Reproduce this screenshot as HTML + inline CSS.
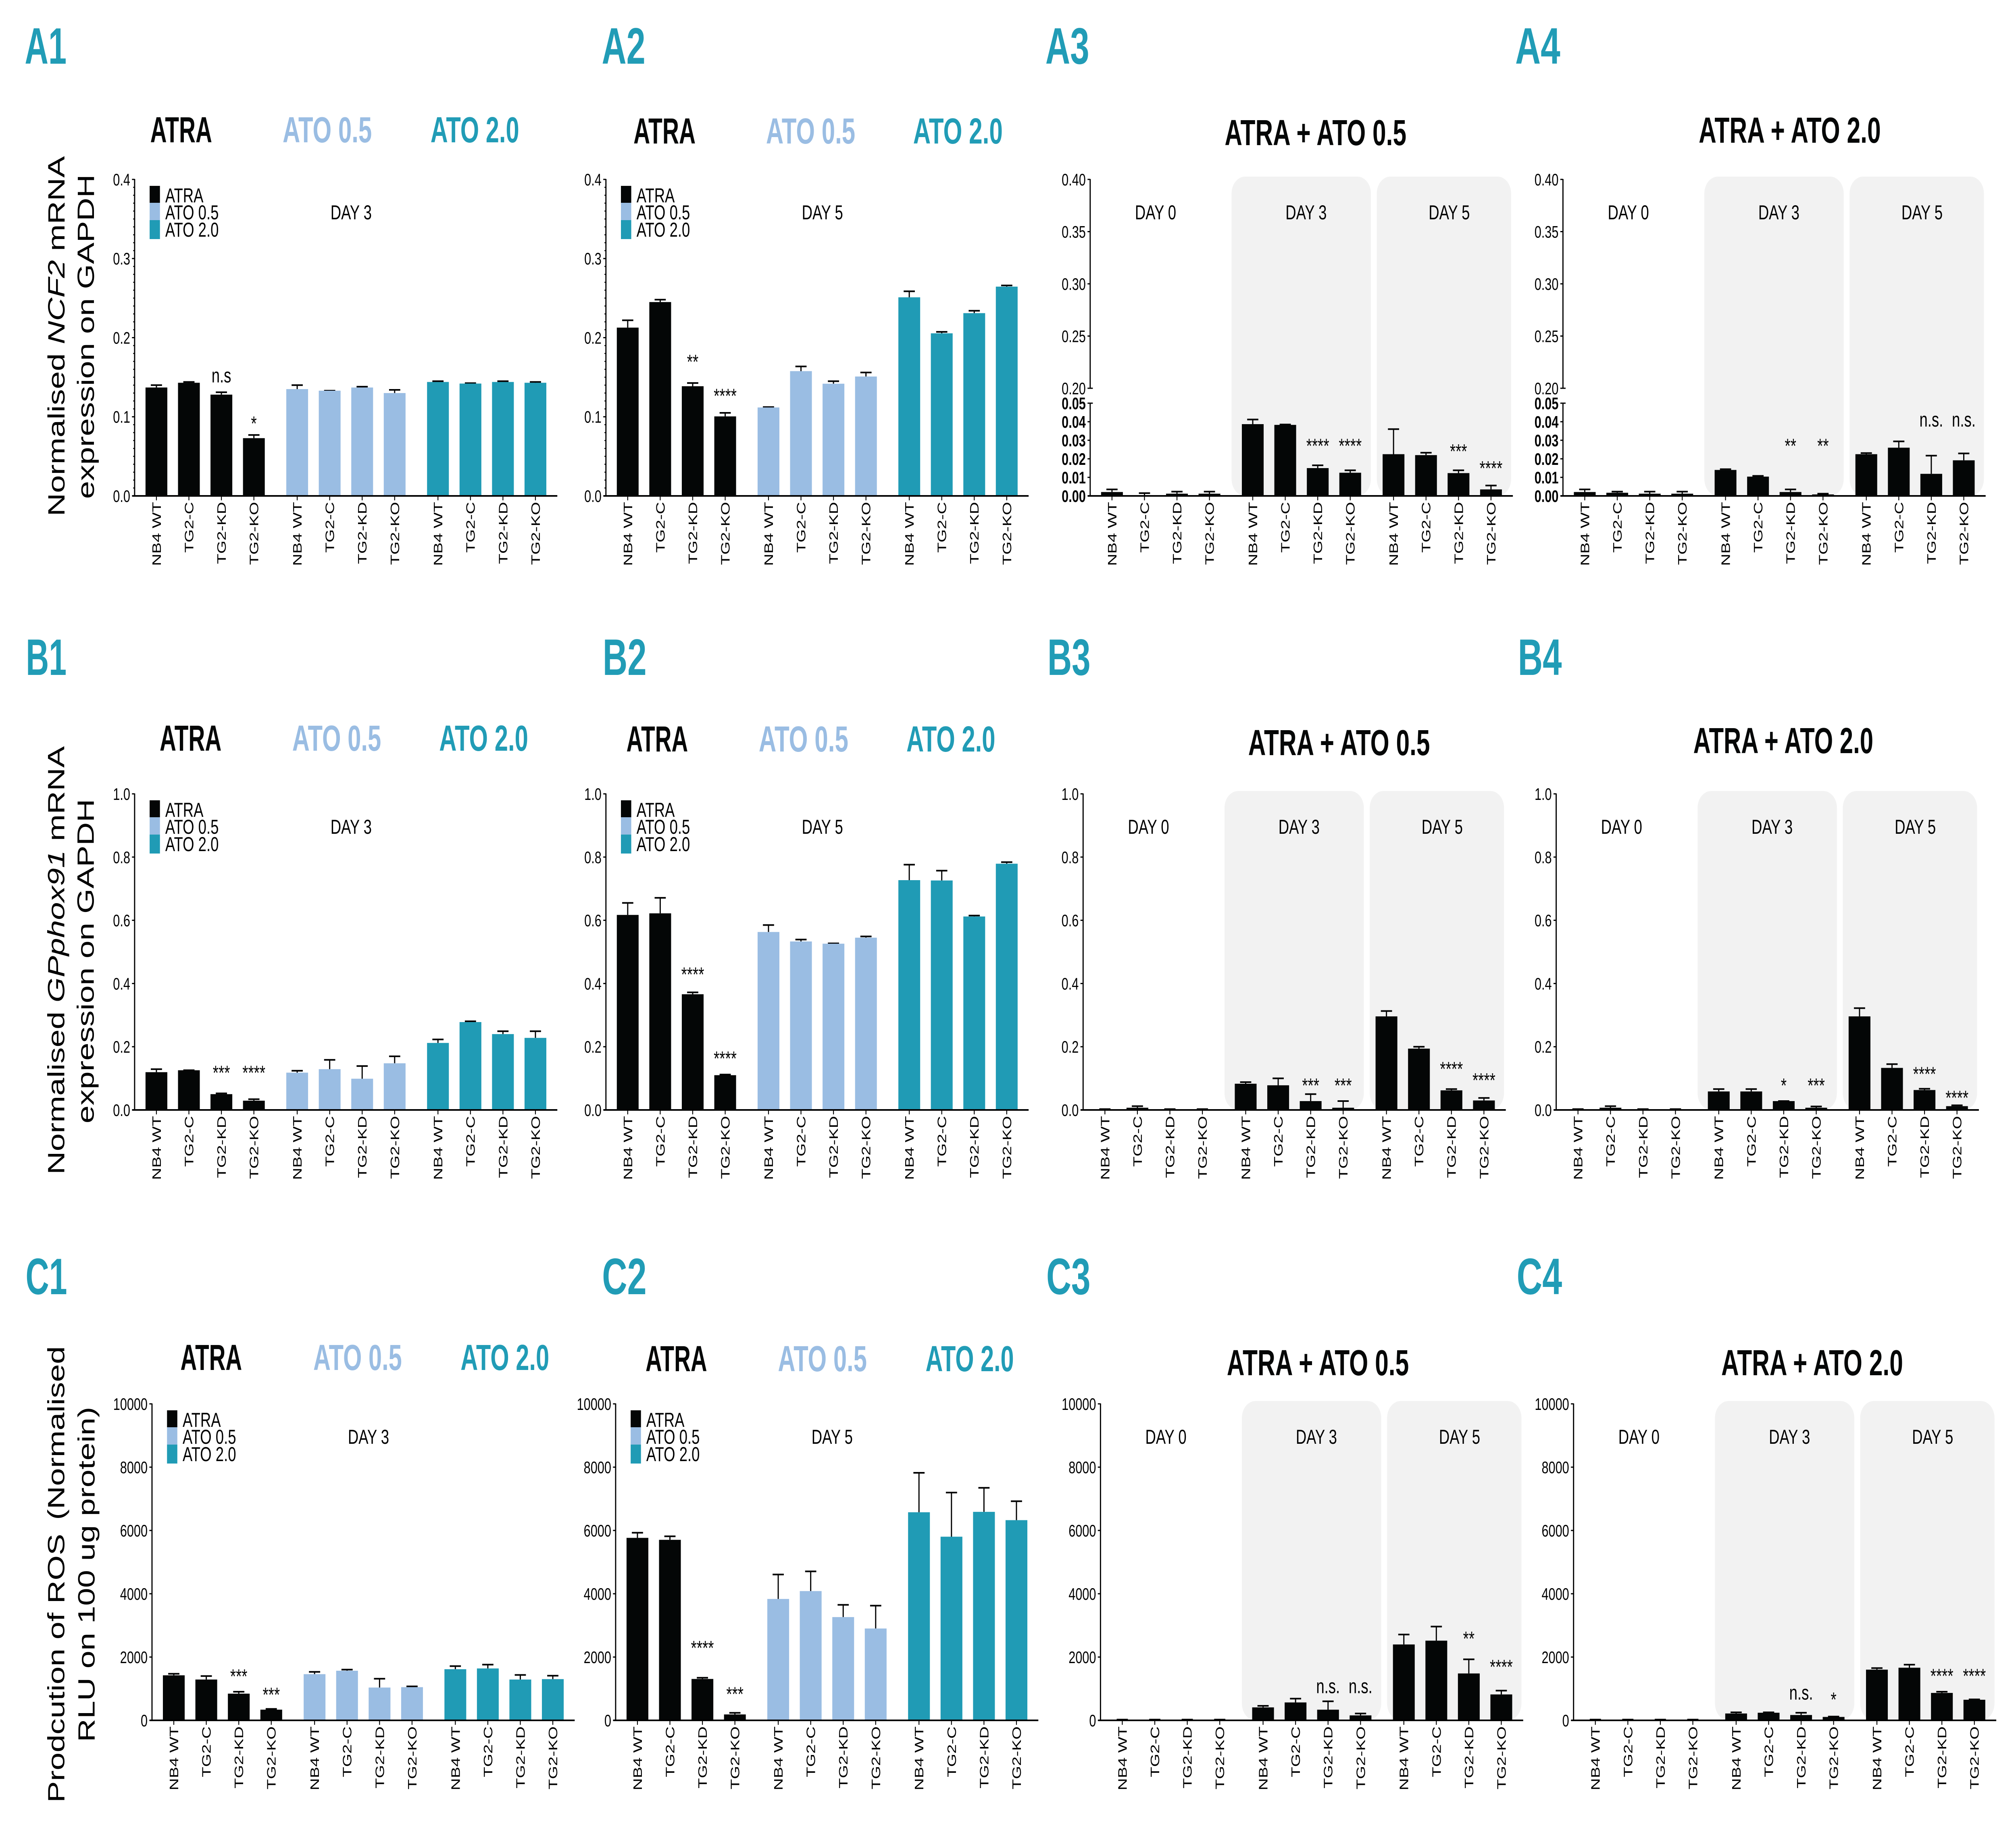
<!DOCTYPE html>
<html lang="en">
<head>
<meta charset="utf-8">
<title>NCF2, GPphox91 and ROS expression panels</title>
<style>
html,body{margin:0;padding:0;background:#fff;overflow:hidden;width:100%;height:100%}
svg{display:block;position:absolute;left:0;top:0;width:100vw;height:100vh}
text{font-family:"Liberation Sans",Arial,sans-serif;fill:#000}
.pl{font-weight:700;font-size:127px;fill:#219cb6}
.tt{font-weight:700;font-size:90px;fill:#050707}
.lb{fill:#9abde3}
.tl{fill:#219cb6}
.yt{font-size:80px;text-anchor:middle}
</style>
</head>
<body>
<svg id="figure" xmlns="http://www.w3.org/2000/svg" viewBox="0 0 6844 4534" preserveAspectRatio="none">
<rect width="6844" height="4534" fill="#fff"/>

<text class="pl" x="84" y="158" textLength="142" lengthAdjust="spacingAndGlyphs">A1</text>
<text class="pl" x="2043" y="158" textLength="148" lengthAdjust="spacingAndGlyphs">A2</text>
<text class="pl" x="3549" y="158" textLength="149" lengthAdjust="spacingAndGlyphs">A3</text>
<text class="pl" x="5144" y="158" textLength="153" lengthAdjust="spacingAndGlyphs">A4</text>
<text class="pl" x="88" y="1674" textLength="138" lengthAdjust="spacingAndGlyphs">B1</text>
<text class="pl" x="2046" y="1674" textLength="149" lengthAdjust="spacingAndGlyphs">B2</text>
<text class="pl" x="3556" y="1674" textLength="146" lengthAdjust="spacingAndGlyphs">B3</text>
<text class="pl" x="5153" y="1674" textLength="149" lengthAdjust="spacingAndGlyphs">B4</text>
<text class="pl" x="87" y="3210" textLength="141" lengthAdjust="spacingAndGlyphs">C1</text>
<text class="pl" x="2044" y="3210" textLength="151" lengthAdjust="spacingAndGlyphs">C2</text>
<text class="pl" x="3552" y="3210" textLength="150" lengthAdjust="spacingAndGlyphs">C3</text>
<text class="pl" x="5149" y="3210" textLength="154" lengthAdjust="spacingAndGlyphs">C4</text>

<text class="tt" x="615" y="353" text-anchor="middle" textLength="210" lengthAdjust="spacingAndGlyphs">ATRA</text>
<text class="tt lb" x="1111" y="353" text-anchor="middle" textLength="303" lengthAdjust="spacingAndGlyphs">ATO 0.5</text>
<text class="tt tl" x="1612" y="353" text-anchor="middle" textLength="301" lengthAdjust="spacingAndGlyphs">ATO 2.0</text>
<text class="tt" x="2256" y="356" text-anchor="middle" textLength="211" lengthAdjust="spacingAndGlyphs">ATRA</text>
<text class="tt lb" x="2752" y="356" text-anchor="middle" textLength="303" lengthAdjust="spacingAndGlyphs">ATO 0.5</text>
<text class="tt tl" x="3252" y="356" text-anchor="middle" textLength="304" lengthAdjust="spacingAndGlyphs">ATO 2.0</text>
<text class="tt" x="4466" y="360" text-anchor="middle" textLength="617" lengthAdjust="spacingAndGlyphs">ATRA + ATO 0.5</text>
<text class="tt" x="6076" y="354" text-anchor="middle" textLength="618" lengthAdjust="spacingAndGlyphs">ATRA + ATO 2.0</text>

<text class="tt" x="647" y="1862" text-anchor="middle" textLength="210" lengthAdjust="spacingAndGlyphs">ATRA</text>
<text class="tt lb" x="1143" y="1862" text-anchor="middle" textLength="302" lengthAdjust="spacingAndGlyphs">ATO 0.5</text>
<text class="tt tl" x="1642" y="1862" text-anchor="middle" textLength="302" lengthAdjust="spacingAndGlyphs">ATO 2.0</text>
<text class="tt" x="2231" y="1864" text-anchor="middle" textLength="209" lengthAdjust="spacingAndGlyphs">ATRA</text>
<text class="tt lb" x="2728" y="1864" text-anchor="middle" textLength="304" lengthAdjust="spacingAndGlyphs">ATO 0.5</text>
<text class="tt tl" x="3228" y="1864" text-anchor="middle" textLength="302" lengthAdjust="spacingAndGlyphs">ATO 2.0</text>
<text class="tt" x="4546" y="1873" text-anchor="middle" textLength="617" lengthAdjust="spacingAndGlyphs">ATRA + ATO 0.5</text>
<text class="tt" x="6054" y="1868" text-anchor="middle" textLength="611" lengthAdjust="spacingAndGlyphs">ATRA + ATO 2.0</text>

<text class="tt" x="717" y="3398" text-anchor="middle" textLength="209" lengthAdjust="spacingAndGlyphs">ATRA</text>
<text class="tt lb" x="1214" y="3398" text-anchor="middle" textLength="301" lengthAdjust="spacingAndGlyphs">ATO 0.5</text>
<text class="tt tl" x="1714" y="3398" text-anchor="middle" textLength="301" lengthAdjust="spacingAndGlyphs">ATO 2.0</text>
<text class="tt" x="2296" y="3401" text-anchor="middle" textLength="209" lengthAdjust="spacingAndGlyphs">ATRA</text>
<text class="tt lb" x="2792" y="3401" text-anchor="middle" textLength="302" lengthAdjust="spacingAndGlyphs">ATO 0.5</text>
<text class="tt tl" x="3292" y="3401" text-anchor="middle" textLength="300" lengthAdjust="spacingAndGlyphs">ATO 2.0</text>
<text class="tt" x="4474" y="3411" text-anchor="middle" textLength="618" lengthAdjust="spacingAndGlyphs">ATRA + ATO 0.5</text>
<text class="tt" x="6152" y="3411" text-anchor="middle" textLength="617" lengthAdjust="spacingAndGlyphs">ATRA + ATO 2.0</text>

<text class="yt" transform="translate(219,834) rotate(-90)">Normalised <tspan font-style="italic">NCF2</tspan> mRNA</text>
<text class="yt" transform="translate(319,835) rotate(-90)">expression on GAPDH</text>
<text class="yt" transform="translate(218,2382) rotate(-90)">Normalised <tspan font-style="italic">GPphox91</tspan> mRNA</text>
<text class="yt" transform="translate(318,2384) rotate(-90)">expression on GAPDH</text>
<text class="yt" transform="translate(218,3905) rotate(-90)">Prodcution of ROS <tspan dx="12">(Normalised</tspan></text>
<text class="yt" transform="translate(321,3905) rotate(-90)">RLU on 100 ug protein)</text>

<g id="charts"></g>
</svg>

<script>
// ---------- shared categories and labels ----------
const categories = ['NB4 WT','TG2-C','TG2-KD','TG2-KO','NB4 WT','TG2-C','TG2-KD','TG2-KO','NB4 WT','TG2-C','TG2-KD','TG2-KO'];
const legendLabels = ['ATRA','ATO 0.5','ATO 2.0'];
const dayLabels = ['DAY 0','DAY 3','DAY 5'];

// ---------- axis ticks ----------
const ticksA = [0,0.1,0.2,0.3,0.4];
const tickLabelsA = ['0.0','0.1','0.2','0.3','0.4'];
const ticksAUpper = [0.20,0.25,0.30,0.35,0.40];
const tickLabelsAUpper = ['0.20','0.25','0.30','0.35','0.40'];
const ticksALower = [0,0.01,0.02,0.03,0.04,0.05];
const tickLabelsALower = ['0.00','0.01','0.02','0.03','0.04','0.05'];
const ticksB = [0,0.2,0.4,0.6,0.8,1.0];
const tickLabelsB = ['0.0','0.2','0.4','0.6','0.8','1.0'];
const ticksC = [0,2000,4000,6000,8000,10000];
const tickLabelsC = ['0','2000','4000','6000','8000','10000'];

// ---------- series values, error bars and significance marks ----------
const a1Values = [.137,.143,.128,.073,.135,.133,.137,.130,.144,.142,.144,.143];
const a1Errors = [.003,.001,.003,.004,.005,0,.001,.004,.001,.0005,.001,.001];
const a1SigBars = [2,3];
const a1SigLabels = ['n.s','*'];
const a1SigLevels = [.150,.098];

const a2Values = [.2127,.245,.1386,.1005,.1118,.1577,.1418,.1509,.251,.2055,.231,.2645];
const a2Errors = [.0093,.003,.0041,.0045,.0005,.0059,.0032,.0051,.0076,.0018,.003,.0015];
const a2SigBars = [2,3];
const a2SigLabels = ['**','****'];
const a2SigLevels = [.176,.133];

const a3Values = [.0021,.0002,.0012,.0012,.0387,.0383,.015,.0125,.0225,.022,.0123,.0035];
const a3Errors = [.0014,.0013,.0011,.0011,.0025,.0002,.0015,.0013,.0135,.0013,.0015,.0021];
const a3SigBars = [6,7,10,11];
const a3SigLabels = ['****','****','***','****'];
const a3SigLevels = [.0298,.0298,.0269,.0177];

const a4Values = [.0021,.0017,.0012,.0012,.014,.0104,.0021,.0008,.0225,.026,.0119,.0192];
const a4Errors = [.0014,.0006,.0011,.0011,.0004,.0004,.0014,.0004,.0006,.0034,.0098,.0037];
const a4SigBars = [6,7,10,11];
const a4SigLabels = ['**','**','n.s.','n.s.'];
const a4SigLevels = [.0298,.0298,.0402,.0402];

const b1Values = [.1195,.1256,.05,.0293,.118,.129,.0988,.1476,.212,.278,.24,.228];
const b1Errors = [.0095,0,.0024,.0047,.006,.0295,.04,.022,.011,.0025,.009,.021];
const b1SigBars = [2,3];
const b1SigLabels = ['***','****'];
const b1SigLevels = [.134,.134];

const b2Values = [.617,.622,.366,.11,.563,.533,.526,.545,.727,.726,.612,.779];
const b2Errors = [.038,.049,.006,.002,.022,.006,.001,.004,.049,.031,.003,.005];
const b2SigBars = [2,3];
const b2SigLabels = ['****','****'];
const b2SigLevels = [.445,.179];

const b3Values = [.001,.007,.001,.001,.083,.078,.028,.007,.296,.194,.062,.03];
const b3Errors = [.0015,.005,.0015,.0015,.005,.022,.022,.021,.017,.006,.004,.008];
const b3SigBars = [6,7,10,11];
const b3SigLabels = ['***','***','****','****'];
const b3SigLevels = [.094,.094,.146,.11];

const b4Values = [.001,.007,.001,.001,.0585,.0585,.028,.007,.296,.133,.063,.012];
const b4Errors = [.0015,.005,.0015,.0015,.0075,.0075,0,.004,.026,.012,.004,.0026];
const b4SigBars = [6,7,10,11];
const b4SigLabels = ['*','***','****','****'];
const b4SigLevels = [.094,.094,.13,.055];

const c1Values = [1423,1290,844,338,1460,1568,1037,1049,1616,1640,1290,1303];
const c1Errors = [49,110,61,24,72,36,278,25,97,121,145,108];
const c1SigBars = [2,3];
const c1SigLabels = ['***','***'];
const c1SigLevels = [1556,977];

const c2Values = [5766,5704,1308,187,3836,4085,3263,2902,6575,5803,6588,6326];
const c2Errors = [162,112,37,50,772,622,386,722,1246,1395,759,598];
const c2SigBars = [2,3];
const c2SigLabels = ['****','***'];
const c2SigLevels = [2453,996];

const c3Values = [12,12,12,12,410,566,337,157,2398,2518,1482,819];
const c3Errors = [12,12,12,12,48,121,265,60,313,446,446,121];
const c3SigBars = [6,7,10,11];
const c3SigLabels = ['n.s.','n.s.','**','****'];
const c3SigLevels = [1024,1024,2747,1855];

const c4Values = [12,12,12,12,217,241,169,108,1602,1663,867,651];
const c4Errors = [12,12,12,12,36,12,72,12,49,96,37,12];
const c4SigBars = [6,7,10,11];
const c4SigLabels = ['n.s.','*','****','****'];
const c4SigLevels = [819,819,1566,1566];

// ---------- drawing ----------
const SVGNS = 'http://www.w3.org/2000/svg';
const BLACK = '#040606', LIGHT = '#9abde3', TEAL = '#209bb5', SHADE = '#f2f2f2';
const root = document.getElementById('charts');

function make(parent, tag, attrs) {
  const node = document.createElementNS(SVGNS, tag);
  for (const k in attrs) node.setAttribute(k, attrs[k]);
  parent.appendChild(node);
  return node;
}

function linearAxis(domainMax, y0, top) {
  return v => y0 - (v / domainMax) * (y0 - top);
}

function brokenAxis(y0, lowerTop, upperBottom, top) {
  return v => v <= 0.05
    ? y0 - (v / 0.05) * (y0 - lowerTop)
    : upperBottom - ((v - 0.2) / 0.2) * (upperBottom - top);
}

function barCenter(axisX, i) {
  return axisX + 74 + i * 110.3 + Math.floor(i / 4) * 36.7;
}

function drawPanel(p) {
  const g = make(root, 'g', {});
  
  
  const top = p.top, y0 = p.y0, ax = p.axis;
  const y = p.broken ? brokenAxis(y0, y0 - 230, y0 - 267, top) : linearAxis(p.max, y0, top);

  // shaded day bands
  if (p.days) {
    const bands = [[480, 953], [973, 1429]];
    bands.forEach((b, bi) => {
      const band = make(g, 'rect', {x: ax + b[0], y: top - 7, width: b[1] - b[0], height: y0 - top + 7, rx: 46, ry: 42, fill: SHADE});
      
      
    });
    const dayOffsets = [222, 733, 1219];
    dayLabels.forEach((d, di) => {
      const t = make(g, 'text', {x: ax + dayOffsets[di], y: top + 99, 'text-anchor': 'middle', 'font-size': 50});
      t.textContent = d;
      
      
    });
  } else {
    const t = make(g, 'text', {x: ax + 735, y: top + 99, 'text-anchor': 'middle', 'font-size': 50});
    t.textContent = p.dayText;
    
    

    // legend
    const swTop = [16, 58, 101], swH = [42, 43, 47], txY = [57, 99, 142];
    const swCol = [BLACK, LIGHT, TEAL];
    legendLabels.forEach((lab, li) => {
      const sw = make(g, 'rect', {x: ax + 51, y: top + swTop[li], width: 35, height: swH[li], fill: swCol[li]});
      
      
      const tx = make(g, 'text', {x: ax + 104, y: top + txY[li], 'font-size': 50});
      tx.textContent = lab;
      
      
    });
  }

  // bars, error bars, x ticks and labels
  p.values.forEach((v, i) => {
    const cx = barCenter(ax, i);
    const col = p.days ? BLACK : [BLACK, LIGHT, TEAL][Math.floor(i / 4)];
    const capY = y(v + p.errors[i]);
    const stem = make(g, 'line', {x1: cx, x2: cx, y1: y(v), y2: capY, stroke: '#000', 'stroke-width': 4});
    
    
    const cap = make(g, 'line', {x1: cx - 19, x2: cx + 19, y1: capY, y2: capY, stroke: '#000', 'stroke-width': 4});
    
    
    const bar = make(g, 'rect', {x: cx - 37, y: y(v), width: 74, height: y0 - y(v), fill: col});
    
    
    const tick = make(g, 'line', {x1: cx, x2: cx, y1: y0, y2: y0 + 11, stroke: '#000', 'stroke-width': 3});
    
    
    const label = make(g, 'text', {x: cx + 15, y: y0 + 15, 'font-size': 42, 'text-anchor': 'end', transform: 'rotate(-90 ' + (cx + 15) + ' ' + (y0 + 15) + ')'});
    label.textContent = categories[i];
    
    
  });

  // significance marks
  p.sigBars.forEach((b, si) => {
    const lab = p.sigLabels[si];
    const isStar = lab.indexOf('*') >= 0;
    const base = y(p.sigLevels[si]) + (isStar ? 30 : 13);
    const t = make(g, 'text', {x: barCenter(ax, b), y: base, 'text-anchor': 'middle', 'font-size': 50});
    t.textContent = lab;
    
    
  });

  // x axis
  const xAxis = make(g, 'line', {x1: ax - 8, x2: ax + 1435, y1: y0, y2: y0, stroke: '#000', 'stroke-width': 4});
  
  

  // y axis
  const drawTicks = (tks, labs, weight, longTop) => {
    tks.forEach((tv, ti) => {
      const ty = y(tv);
      const isBreak = longTop && ti === longTop.idx;
      const tk = make(g, 'line', {x1: ax - 9, x2: isBreak ? ax + 9 : ax, y1: ty, y2: ty, stroke: '#000', 'stroke-width': 3});
      
      
      const tl = make(g, 'text', {x: ax - 15, y: ty + 15, 'text-anchor': 'end', 'font-size': 42, 'font-weight': weight});
      tl.textContent = labs[ti];
      
      
    });
  };
  if (p.broken) {
    const up = make(g, 'line', {x1: ax, x2: ax, y1: top - 1, y2: y(0.2), stroke: '#000', 'stroke-width': 4});
    
    
    const lo = make(g, 'line', {x1: ax, x2: ax, y1: y(0.05), y2: y0 + 2, stroke: '#000', 'stroke-width': 4});
    
    
    drawTicks(ticksAUpper, tickLabelsAUpper, 400, {idx: 0});
    drawTicks(ticksALower, tickLabelsALower, 700, {idx: 5});
  } else {
    const yAxis = make(g, 'line', {x1: ax, x2: ax, y1: top - 1, y2: y0 + 2, stroke: '#000', 'stroke-width': 4});
    
    
    drawTicks(p.ticks, p.tickLabels, 400, null);
    if (p.minorStep) {
      for (let k = 1; k * p.minorStep < p.max; k++) {
        if (k % 10 === 0) continue;
        const my = y(k * p.minorStep);
        const minor = make(g, 'line', {x1: ax - 5, x2: ax, y1: my, y2: my, stroke: '#000', 'stroke-width': 2.5});
        
        
      }
    }
  }
}

drawPanel({id:'a1',axis:457,y0:1230,top:445,max:.4,ticks:ticksA,tickLabels:tickLabelsA,minorStep:.01,dayText:'DAY 3',values:a1Values,errors:a1Errors,sigBars:a1SigBars,sigLabels:a1SigLabels,sigLevels:a1SigLevels});
drawPanel({id:'a2',axis:2057,y0:1230,top:445,max:.4,ticks:ticksA,tickLabels:tickLabelsA,minorStep:.01,dayText:'DAY 5',values:a2Values,errors:a2Errors,sigBars:a2SigBars,sigLabels:a2SigLabels,sigLevels:a2SigLevels});
drawPanel({id:'a3',axis:3701,y0:1230,top:445,broken:true,days:true,values:a3Values,errors:a3Errors,sigBars:a3SigBars,sigLabels:a3SigLabels,sigLevels:a3SigLevels});
drawPanel({id:'a4',axis:5306,y0:1230,top:445,broken:true,days:true,values:a4Values,errors:a4Errors,sigBars:a4SigBars,sigLabels:a4SigLabels,sigLevels:a4SigLevels});
drawPanel({id:'b1',axis:457,y0:2753,top:1969,max:1,ticks:ticksB,tickLabels:tickLabelsB,dayText:'DAY 3',values:b1Values,errors:b1Errors,sigBars:b1SigBars,sigLabels:b1SigLabels,sigLevels:b1SigLevels});
drawPanel({id:'b2',axis:2057,y0:2753,top:1969,max:1,ticks:ticksB,tickLabels:tickLabelsB,dayText:'DAY 5',values:b2Values,errors:b2Errors,sigBars:b2SigBars,sigLabels:b2SigLabels,sigLevels:b2SigLevels});
drawPanel({id:'b3',axis:3677,y0:2753,top:1969,max:1,ticks:ticksB,tickLabels:tickLabelsB,days:true,values:b3Values,errors:b3Errors,sigBars:b3SigBars,sigLabels:b3SigLabels,sigLevels:b3SigLevels});
drawPanel({id:'b4',axis:5283,y0:2753,top:1969,max:1,ticks:ticksB,tickLabels:tickLabelsB,days:true,values:b4Values,errors:b4Errors,sigBars:b4SigBars,sigLabels:b4SigLabels,sigLevels:b4SigLevels});
drawPanel({id:'c1',axis:516,y0:4267,top:3482,max:10000,ticks:ticksC,tickLabels:tickLabelsC,dayText:'DAY 3',values:c1Values,errors:c1Errors,sigBars:c1SigBars,sigLabels:c1SigLabels,sigLevels:c1SigLevels});
drawPanel({id:'c2',axis:2090,y0:4267,top:3482,max:10000,ticks:ticksC,tickLabels:tickLabelsC,dayText:'DAY 5',values:c2Values,errors:c2Errors,sigBars:c2SigBars,sigLabels:c2SigLabels,sigLevels:c2SigLevels});
drawPanel({id:'c3',axis:3736,y0:4267,top:3482,max:10000,ticks:ticksC,tickLabels:tickLabelsC,days:true,values:c3Values,errors:c3Errors,sigBars:c3SigBars,sigLabels:c3SigLabels,sigLevels:c3SigLevels});
drawPanel({id:'c4',axis:5342,y0:4267,top:3482,max:10000,ticks:ticksC,tickLabels:tickLabelsC,days:true,values:c4Values,errors:c4Errors,sigBars:c4SigBars,sigLabels:c4SigLabels,sigLevels:c4SigLevels});
</script>
</body>
</html>
